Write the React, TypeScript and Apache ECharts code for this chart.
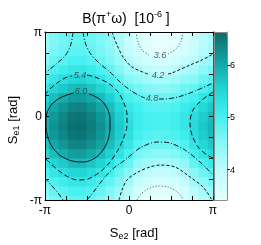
import React, { useEffect, useRef } from 'react';
import * as echarts from 'echarts';

const FONT = '"Liberation Sans", Arial, Helvetica, sans-serif';
const PI = Math.PI;

// grid nodes (degrees) of S_e2 (x) and S_e1 (y)
const S_E2_NODES_DEG = [-180, -160, -140, -120, -100, -80, -60, -40, -20, 0, 20, 40, 60, 80, 100, 120, 140, 160, 180];
const S_E1_NODES_DEG = [-180, -160, -140, -120, -100, -80, -60, -40, -20, 0, 20, 40, 60, 80, 100, 120, 140, 160, 180];

// B values (1e-6) along S_e1 (bottom -> top) for each S_e2 node
const B_SE2_M180 = [4.34, 4.48, 4.70, 4.96, 5.24, 5.51, 5.72, 5.86, 5.91, 5.86, 5.72, 5.51, 5.24, 4.96, 4.70, 4.48, 4.34, 4.29, 4.34];
const B_SE2_M160 = [4.59, 4.74, 4.96, 5.23, 5.53, 5.80, 6.02, 6.17, 6.22, 6.17, 6.02, 5.80, 5.53, 5.23, 4.96, 4.74, 4.59, 4.54, 4.59];
const B_SE2_M140 = [4.70, 4.85, 5.09, 5.37, 5.67, 5.96, 6.19, 6.34, 6.39, 6.34, 6.19, 5.96, 5.67, 5.37, 5.09, 4.85, 4.70, 4.65, 4.70];
const B_SE2_M120 = [4.81, 4.97, 5.21, 5.50, 5.82, 6.11, 6.35, 6.51, 6.56, 6.51, 6.35, 6.11, 5.82, 5.50, 5.21, 4.97, 4.81, 4.76, 4.81];
const B_SE2_M100 = [4.83, 4.99, 5.23, 5.52, 5.84, 6.13, 6.37, 6.53, 6.58, 6.53, 6.37, 6.13, 5.84, 5.52, 5.23, 4.99, 4.83, 4.78, 4.83];
const B_SE2_M80 = [4.73, 4.89, 5.12, 5.41, 5.71, 6.00, 6.23, 6.39, 6.44, 6.39, 6.23, 6.00, 5.71, 5.41, 5.12, 4.89, 4.73, 4.68, 4.73];
const B_SE2_M60 = [4.61, 4.76, 4.98, 5.25, 5.55, 5.82, 6.04, 6.19, 6.24, 6.19, 6.04, 5.82, 5.55, 5.25, 4.98, 4.76, 4.61, 4.56, 4.61];
const B_SE2_M40 = [4.44, 4.58, 4.79, 5.04, 5.32, 5.58, 5.79, 5.92, 5.97, 5.92, 5.79, 5.58, 5.32, 5.04, 4.79, 4.58, 4.44, 4.39, 4.44];
const B_SE2_M20 = [4.20, 4.33, 4.53, 4.77, 5.03, 5.28, 5.48, 5.61, 5.65, 5.61, 5.48, 5.28, 5.03, 4.77, 4.53, 4.33, 4.20, 4.15, 4.20];
const B_SE2_0 = [3.93, 4.06, 4.26, 4.50, 4.76, 5.01, 5.21, 5.34, 5.38, 5.34, 5.21, 5.01, 4.76, 4.50, 4.26, 4.06, 3.93, 3.88, 3.93];
const B_SE2_P20 = [3.67, 3.76, 3.92, 4.15, 4.40, 4.65, 4.88, 5.04, 5.13, 5.13, 5.04, 4.88, 4.65, 4.40, 4.15, 3.92, 3.76, 3.67, 3.67];
const B_SE2_P40 = [3.51, 3.60, 3.77, 4.00, 4.26, 4.52, 4.75, 4.92, 5.01, 5.01, 4.92, 4.75, 4.52, 4.26, 4.00, 3.77, 3.60, 3.51, 3.51];
const B_SE2_P60 = [3.41, 3.51, 3.68, 3.92, 4.19, 4.46, 4.70, 4.87, 4.97, 4.97, 4.87, 4.70, 4.46, 4.19, 3.92, 3.68, 3.51, 3.41, 3.41];
const B_SE2_P80 = [3.40, 3.50, 3.68, 3.92, 4.19, 4.46, 4.70, 4.88, 4.98, 4.98, 4.88, 4.70, 4.46, 4.19, 3.92, 3.68, 3.50, 3.40, 3.40];
const B_SE2_P100 = [3.48, 3.58, 3.76, 4.00, 4.27, 4.54, 4.78, 4.96, 5.06, 5.06, 4.96, 4.78, 4.54, 4.27, 4.00, 3.76, 3.58, 3.48, 3.48];
const B_SE2_P120 = [3.63, 3.73, 3.91, 4.15, 4.42, 4.69, 4.93, 5.11, 5.21, 5.21, 5.11, 4.93, 4.69, 4.42, 4.15, 3.91, 3.73, 3.63, 3.63];
const B_SE2_P140 = [3.87, 4.01, 4.23, 4.49, 4.77, 5.04, 5.25, 5.39, 5.44, 5.39, 5.25, 5.04, 4.77, 4.49, 4.23, 4.01, 3.87, 3.82, 3.87];
const B_SE2_P160 = [4.07, 4.21, 4.44, 4.71, 4.99, 5.27, 5.49, 5.63, 5.68, 5.63, 5.49, 5.27, 4.99, 4.71, 4.44, 4.21, 4.07, 4.02, 4.07];
const B_SE2_P180 = [4.22, 4.37, 4.60, 4.87, 5.17, 5.45, 5.67, 5.82, 5.87, 5.82, 5.67, 5.45, 5.17, 4.87, 4.60, 4.37, 4.22, 4.17, 4.22];

const B_GRID = [
  B_SE2_M180, B_SE2_M160, B_SE2_M140, B_SE2_M120, B_SE2_M100, B_SE2_M80, B_SE2_M60, B_SE2_M40, B_SE2_M20,
  B_SE2_0, B_SE2_P20, B_SE2_P40, B_SE2_P60, B_SE2_P80, B_SE2_P100, B_SE2_P120, B_SE2_P140, B_SE2_P160, B_SE2_P180,
];

const B_MIN = 3.42;
const B_MAX = 6.63;
const COLORBAR_TICKS = [4, 5, 6];
const AXIS_TICKS_IN_PI = [-1, -0.75, -0.5, -0.25, 0, 0.25, 0.5, 0.75, 1];
const AXIS_LABELS_IN_PI = [-1, 0, 1];

// contour lines [S_e2, S_e1] in rad
const C60 = [[-1.496, 0.823], [-1.384, 0.785], [-1.047, 0.598], [-0.823, 0.299], [-0.711, -0.075], [-0.711, -0.449], [-0.785, -0.898], [-0.972, -1.272], [-1.272, -1.571], [-1.683, -1.720], [-2.132, -1.683], [-2.543, -1.496], [-2.842, -1.197], [-3.029, -0.823], [-3.104, -0.337], [-3.067, 0.112], [-2.880, 0.449], [-2.581, 0.673], [-2.207, 0.823], [-2.057, 0.860]];
const C54_LEFT_A = [[-3.142, 0.785], [-2.954, 1.010], [-2.693, 1.234], [-2.393, 1.421], [-2.131, 1.496]];
const C54_LEFT_B = [[-1.571, 1.533], [-1.272, 1.459], [-0.785, 1.234], [-0.411, 0.898], [-0.187, 0.486], [-0.075, 0.037], [-0.075, -0.337], [-0.187, -0.785], [-0.411, -1.272], [-0.711, -1.720], [-1.085, -2.094], [-1.533, -2.356], [-1.907, -2.393], [-2.281, -2.281], [-2.655, -2.020], [-2.954, -1.758], [-3.142, -1.571]];
const C54_RIGHT = [[3.142, 0.898], [2.730, 0.598], [2.394, 0.224], [2.281, -0.262], [2.356, -0.711], [2.581, -1.159], [2.917, -1.459], [3.142, -1.571]];
const C48_UPPER_LEFT = [[-2.094, 3.142], [-2.169, 2.693], [-2.394, 2.244], [-2.768, 1.907], [-3.142, 1.608]];
const C48_UPPER_A = [[-1.720, 3.142], [-1.646, 2.768], [-1.459, 2.356], [-1.122, 1.982], [-0.711, 1.646], [-0.337, 1.272], [0.037, 0.972], [0.411, 0.748], [0.598, 0.673]];
const C48_UPPER_B = [[1.122, 0.636], [1.309, 0.636], [1.833, 0.711], [2.468, 0.935], [3.142, 1.234]];
const C48_LOWER = [[-1.571, -3.142], [-1.272, -2.768], [-0.898, -2.281], [-0.524, -1.907], [-0.150, -1.646], [0.411, -1.197], [1.047, -0.972], [1.533, -1.010], [2.094, -1.272], [2.655, -1.720], [3.142, -2.206]];
const C48_LOWER_LEFT = [[-3.142, -2.318], [-2.879, -2.618], [-2.655, -2.879], [-2.468, -3.142]];
const C42_UPPER_A = [[-0.636, 3.142], [-0.449, 2.655], [-0.224, 2.206], [0.112, 1.833], [0.598, 1.608], [0.711, 1.571]];
const C42_UPPER_B = [[1.459, 1.571], [1.608, 1.608], [2.281, 1.907], [2.730, 2.094], [3.142, 2.318]];
const C42_LOWER = [[-0.374, -3.142], [-0.262, -2.768], [-0.075, -2.393], [0.337, -2.094], [0.785, -1.907], [1.159, -1.833], [1.720, -1.907], [2.281, -2.281], [2.767, -2.655], [3.104, -3.142]];
const C36_UPPER_A = [[0.262, 3.142], [0.337, 2.768], [0.486, 2.468], [0.748, 2.281]];
const C36_UPPER_B = [[1.459, 2.318], [1.758, 2.505], [1.945, 2.805], [2.019, 3.142]];
const C36_LOWER = [[0.299, -3.142], [0.449, -2.917], [0.711, -2.730], [1.085, -2.618], [1.459, -2.655], [1.758, -2.805], [1.945, -2.992], [2.019, -3.142]];

const CONTOUR_LABEL_TEXT = ['6.0', '5.4', '4.8', '4.2', '3.6'];
const CONTOUR_LABEL_AT = [[-1.795, 0.935], [-1.833, 1.533], [0.860, 0.655], [1.085, 1.533], [1.159, 2.281]];

const PALETTE = ['#e8ffff', '#c0fdfd', '#88f8f8', '#44f0f0', '#20d4d4', '#12a0a0', '#0b6a6a'];

export default function App() {
  const ref = useRef<HTMLDivElement>(null);

  useEffect(() => {
    const chart = echarts.init(ref.current as HTMLDivElement, null, { renderer: 'svg' });
    const heat: number[][] = [];
    S_E2_NODES_DEG.forEach((dx, i) => {
      S_E1_NODES_DEG.forEach((dy, j) => {
        heat.push([(dx * PI) / 180, (dy * PI) / 180, B_GRID[i][j]]);
      });
    });
    const half = PI / 18;

    const line = (pts: number[][], dash: any, color = '#111') => ({
      type: 'line',
      xAxisIndex: 0,
      yAxisIndex: 0,
      data: pts,
      symbol: 'none',
      showSymbol: false,
      smooth: 0.3,
      clip: true,
      silent: true,
      z: 5,
      lineStyle: { color, width: 1, type: dash },
    });

    const piFmt = (v: number) => (v < -1 ? '-π' : v > 1 ? 'π' : '0');
    const tickVals = AXIS_TICKS_IN_PI.map((t) => t * PI);
    const labelVals = AXIS_LABELS_IN_PI.map((t) => t * PI);

    const mainAxis = (pos: string, labels: boolean, lineColor = '#000') => ({
      gridIndex: 0,
      type: 'value',
      min: -PI,
      max: PI,
      position: pos,
      z: 10,
      axisLine: { show: true, onZero: false, lineStyle: { color: lineColor, width: 1 } },
      axisTick: { show: true, inside: true, length: 4, customValues: tickVals, lineStyle: { color: '#000', width: 1 } },
      axisLabel: {
        show: labels,
        customValues: labelVals,
        formatter: piFmt,
        fontSize: 12,
        fontFamily: FONT,
        color: '#000',
        margin: pos === 'left' ? 3 : 4,
      },
      splitLine: { show: false },
    });

    const barBorder = (pos: string) => ({
      gridIndex: 1,
      type: 'value',
      min: pos === 'top' || pos === 'bottom' ? 0 : B_MIN,
      max: pos === 'top' || pos === 'bottom' ? 1 : B_MAX,
      position: pos,
      z: 10,
      axisLine: { show: true, onZero: false, lineStyle: { color: '#8a8a8a', width: 1 } },
      axisTick: { show: false },
      axisLabel: { show: false },
      splitLine: { show: false },
    });

    chart.setOption({
      animation: false,
      grid: [
        { left: 45, top: 32, width: 168, height: 168 },
        { left: 214, top: 32, width: 13, height: 168 },
      ],
      xAxis: [mainAxis('bottom', true), mainAxis('top', false), barBorder('top'), barBorder('bottom')],
      yAxis: [
        mainAxis('left', true),
        mainAxis('right', false, '#555'),
        barBorder('left'),
        {
          gridIndex: 1,
          type: 'value',
          min: B_MIN,
          max: B_MAX,
          position: 'right',
          z: 10,
          axisLine: { show: true, onZero: false, lineStyle: { color: '#8a8a8a', width: 1 } },
          axisTick: { show: true, inside: false, length: 3, customValues: COLORBAR_TICKS, lineStyle: { color: '#222', width: 1 } },
          axisLabel: { show: true, customValues: COLORBAR_TICKS, fontSize: 9, fontFamily: FONT, color: '#000', margin: 3 },
          splitLine: { show: false },
        },
      ],
      visualMap: {
        type: 'continuous',
        seriesIndex: 0,
        dimension: 2,
        min: B_MIN,
        max: B_MAX,
        show: true,
        calculable: false,
        hoverLink: false,
        orient: 'vertical',
        left: 214,
        top: 32,
        padding: 0,
        itemWidth: 13,
        itemHeight: 168,
        inRange: { color: PALETTE },
      },
      graphic: [
        {
          type: 'text',
          x: 126,
          y: 18,
          style: {
            text: '{n|B(π}{s|+}{n|ω)  [10}{s|-6}{n| ]}',
            align: 'center',
            verticalAlign: 'middle',
            rich: {
              n: { fontSize: 14, fontFamily: FONT, fill: '#000', color: '#000', lineHeight: 18 },
              s: { fontSize: 9, fontFamily: FONT, fill: '#000', color: '#000', lineHeight: 11, verticalAlign: 'top' },
            },
          },
        },
        {
          type: 'text',
          x: 134,
          y: 232,
          style: {
            text: '{n|S}{b|e2}{n| [rad]}',
            align: 'center',
            verticalAlign: 'middle',
            rich: {
              n: { fontSize: 13, fontFamily: FONT, fill: '#000', color: '#000', lineHeight: 16 },
              b: { fontSize: 9, fontFamily: FONT, fill: '#000', color: '#000', lineHeight: 10, verticalAlign: 'bottom' },
            },
          },
        },
        {
          type: 'text',
          x: 12,
          y: 120,
          rotation: PI / 2,
          style: {
            text: '{n|S}{b|e1}{n| [rad]}',
            align: 'center',
            verticalAlign: 'middle',
            rich: {
              n: { fontSize: 13, fontFamily: FONT, fill: '#000', color: '#000', lineHeight: 16 },
              b: { fontSize: 9, fontFamily: FONT, fill: '#000', color: '#000', lineHeight: 10, verticalAlign: 'bottom' },
            },
          },
        },
      ],
      series: [
        {
          type: 'custom',
          xAxisIndex: 0,
          yAxisIndex: 0,
          data: heat,
          dimensions: ['Se2', 'Se1', 'B'],
          encode: { x: 0, y: 1 },
          silent: true,
          z: 1,
          renderItem: (params: any, api: any) => {
            const x = api.value(0);
            const y = api.value(1);
            const p0 = api.coord([x - half, y + half]);
            const p1 = api.coord([x + half, y - half]);
            const cs = params.coordSys;
            const shape = echarts.graphic.clipRectByRect(
              { x: p0[0] - 0.5, y: p0[1] - 0.5, width: p1[0] - p0[0] + 1, height: p1[1] - p0[1] + 1 },
              { x: cs.x, y: cs.y, width: cs.width, height: cs.height }
            );
            if (!shape) return null;
            return { type: 'rect', shape, style: { fill: api.visual('color') } };
          },
        },
        line(C60, 'solid'),
        line(C54_LEFT_A, [5, 3]),
        line(C54_LEFT_B, [5, 3]),
        line(C54_RIGHT, [5, 3]),
        line(C48_UPPER_LEFT, [5, 2, 1, 2]),
        line(C48_UPPER_A, [5, 2, 1, 2]),
        line(C48_UPPER_B, [5, 2, 1, 2]),
        line(C48_LOWER, [5, 2, 1, 2]),
        line(C48_LOWER_LEFT, [5, 2, 1, 2]),
        line(C42_UPPER_A, [3, 2]),
        line(C42_UPPER_B, [3, 2]),
        line(C42_LOWER, [3, 2]),
        line(C36_UPPER_A, [1, 2], '#444'),
        line(C36_UPPER_B, [1, 2], '#444'),
        line(C36_LOWER, [1, 2], '#444'),
        {
          type: 'scatter',
          xAxisIndex: 0,
          yAxisIndex: 0,
          silent: true,
          z: 6,
          symbolSize: 1,
          itemStyle: { color: 'rgba(0,0,0,0)' },
          data: CONTOUR_LABEL_AT.map((p, i) => ({ value: p, name: CONTOUR_LABEL_TEXT[i] })),
          label: {
            show: true,
            position: 'inside',
            formatter: '{b}',
            fontSize: 9,
            fontStyle: 'italic',
            fontFamily: FONT,
            color: '#333',
          },
        },
      ],
    });
    return () => chart.dispose();
  }, []);

  return <div ref={ref} style={{ position: 'fixed', left: 0, top: 0, width: 261, height: 245 }} />;
}
